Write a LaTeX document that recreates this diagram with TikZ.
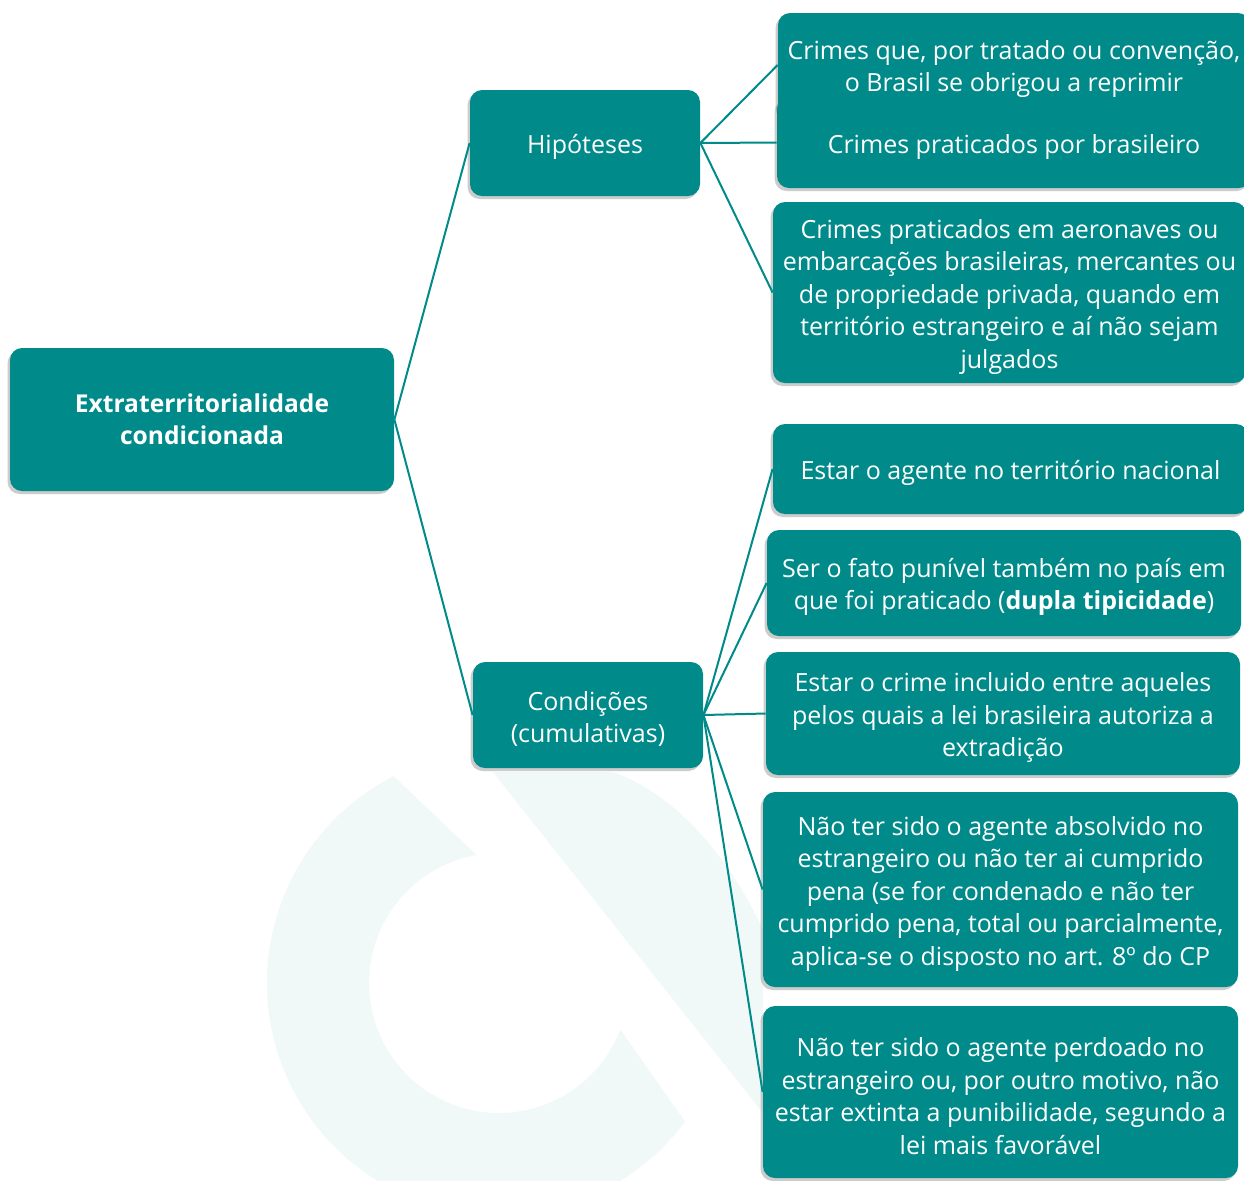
\documentclass[tikz,border=0pt]{standalone}
\usepackage{fontspec}
\setmainfont{Open Sans}
\usepackage{tikz}
\usetikzlibrary{shadows,calc}

\definecolor{tealbox}{RGB}{0,138,138}
\definecolor{wmark}{RGB}{240,248,248}

\newcommand{\ts}{\rule{0pt}{13.5pt}} % top strut

\tikzset{
	box/.style={fill=tealbox, rounded corners=6pt, text=white, align=center,
		inner sep=0pt, font=\fontsize{12.5}{16.25}\selectfont,
		drop shadow={shadow xshift=-1.2pt, shadow yshift=-1.5pt, opacity=0.4}},
	rootbox/.style={box, font=\fontsize{12.3}{16}\selectfont\bfseries},
	link/.style={draw=tealbox, line width=1pt}
}

\begin{document}
\begin{tikzpicture}[x=0.5pt,y=-0.5pt]
	\useasboundingbox (0,0) rectangle (1244,1180);
	\clip (0,0) rectangle (1244,1180);
	\fill[white] (0,0) rectangle (1244,1180);
	
	% watermark
	\coordinate (W) at (499,983);
	\def\ro{232} % outer radius
	\def\ri{130} % inner radius
	\fill[wmark] ($(W)+(243:\ro)$) arc[start angle=243, end angle=36.7, radius=\ro]
	-- ($(W)+(21:\ri)$) arc[start angle=21, end angle=260, radius=\ri] -- cycle;
	\fill[wmark] (493,772) -- (613,772) .. controls (690,800) and (740,880) .. (763,930)
	-- (763,1113) -- cycle;
	
	% root
	\node[rootbox, minimum width=192pt, minimum height=71.5pt] (root) at (202,419.5)
	{Extraterritorialidade\\condicionada};
	
	% second level
	\node[box, minimum width=115pt, minimum height=53pt] (hip) at (585,143) {\ts Hipóteses};
	\node[box, minimum width=115pt, minimum height=53pt] (cond) at (588,715)
	{\ts Condições\\(cumulativas)};
	
	% hipoteses
	\node[box, minimum width=236pt, minimum height=52pt] (hA) at (1014,65)
	{\ts Crimes que, por tratado ou convenção,\\o Brasil se obrigou a reprimir};
	\node[box, minimum width=237pt, minimum height=45.5pt] (hB) at (1014,142.5)
	{\ts Crimes praticados por brasileiro};
	\node[box, minimum width=236.5pt, minimum height=90.5pt] (hC) at (1009.5,292.5)
	{\ts Crimes praticados em aeronaves ou\\embarcações brasileiras, mercantes ou\\de propriedade privada, quando em\\território estrangeiro e aí não sejam\\julgados};
	
	% condicoes
	\node[box, minimum width=237.5pt, minimum height=45pt] (cD) at (1010.5,469)
	{\ts Estar o agente no território nacional};
	\node[box, minimum width=237pt, minimum height=53pt] (cE) at (1004,583)
	{\ts Ser o fato punível também no país em\\que foi praticado (\textbf{dupla tipicidade})};
	\node[box, minimum width=237pt, minimum height=61.5pt] (cF) at (1003,713.5)
	{\ts Estar o crime incluido entre aqueles\\pelos quais a lei brasileira autoriza a\\extradição};
	\node[box, minimum width=237.5pt, minimum height=97.5pt] (cG) at (1000.5,889.5)
	{\ts Não ter sido o agente absolvido no\\estrangeiro ou não ter ai cumprido\\pena (se for condenado e não ter\\cumprido pena, total ou parcialmente,\\aplica-se o disposto no art. 8º do CP};
	\node[box, minimum width=237.5pt, minimum height=86pt] (cH) at (1000.5,1092)
	{\ts Não ter sido o agente perdoado no\\estrangeiro ou, por outro motivo, não\\estar extinta a punibilidade, segundo a\\lei mais favorável};
	
	% connectors
	\draw[link] (root.east) -- (hip.west);
	\draw[link] (root.east) -- (cond.west);
	\foreach \n in {hA,hB,hC}
	\draw[link] (hip.east) -- (\n.west);
	\foreach \n in {cD,cE,cF,cG,cH}
	\draw[link] (cond.east) -- (\n.west);
\end{tikzpicture}
\end{document}
